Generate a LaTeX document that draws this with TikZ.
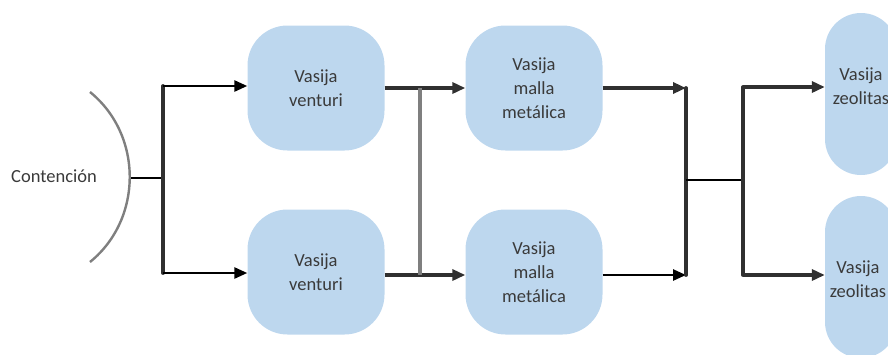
\documentclass[tikz,border=0pt]{standalone}
\usepackage{fontspec}
\setmainfont{Carlito}
\usetikzlibrary{arrows.meta}
\definecolor{boxblue}{HTML}{BDD7EE}
\definecolor{txt}{HTML}{3A3A3A}
\definecolor{trunk}{HTML}{303030}
\definecolor{midgray}{HTML}{7F7F7F}
\begin{document}
\begin{tikzpicture}[x=1pt,y=-1pt,
  vessel/.style={fill=boxblue, draw=none, rounded corners=40pt, minimum width=137pt,
    minimum height=125pt, align=center, text=txt, inner sep=0pt,
    font=\fontsize{18.5}{24}\selectfont},
  zeo/.style={vessel, minimum width=72pt, minimum height=162pt, rounded corners=36pt},
  lbl/.style={text=txt, font=\fontsize{18.5}{24}\selectfont, inner sep=0pt},
  arr/.style={-{Triangle[length=13pt,width=11pt]}, line width=2.6pt, color=black},
  thickarr/.style={arr, line width=3.6pt, color=trunk},
  trunkline/.style={line width=3.8pt, color=trunk},
  thinline/.style={line width=2.3pt, color=black}]
\useasboundingbox (0,0) rectangle (888,354);
\clip (0,0) rectangle (888,354);

% Contención
\node[lbl] (cont) at (54,176) {Contención};
\draw[line width=2.4pt, color=midgray] (90,92) .. controls (143,135) and (143,219) .. (90,262);
\coordinate (arcR) at (131,178);
\coordinate (j1) at (163,178);
\coordinate (j1t) at (163,86);
\coordinate (j1b) at (163,273);

% vessels
\node[vessel] (v1) at (316,88) {Vasija\\venturi};
\node[vessel] (v2) at (316,272) {Vasija\\venturi};
\node[vessel] (m1) at (534,88) {Vasija\\malla\\metálica};
\node[vessel] (m2) at (534,272) {Vasija\\malla\\metálica};
\node[zeo] (z1) at (861,94) {};
\node[zeo] (z2) at (861,277) {};
\node[lbl, align=center] (z1t) at (861,86) {Vasija\\zeolitas};
\node[lbl, align=center] (z2t) at (858,279) {Vasija\\zeolitas};

% left split
\draw[thinline] (arcR) -- (j1);
\draw[trunkline, line cap=round] (j1t) -- (j1b);
\draw[arr] (j1t) -- (v1.west |- j1t);
\draw[arr] (j1b) -- (v2.west |- j1b);

% venturi -> malla
\draw[thickarr] (v1.east) -- (m1.west);
\draw[thickarr] (v2.east |- 0,275) -- (m2.west |- 0,275);
\coordinate (g1) at (420,88);
\coordinate (g2) at (420,275);
\draw[line width=3.4pt, color=midgray] (g1) -- (g2);

% malla -> join
\coordinate (k1) at (686,88);
\coordinate (k2) at (686,275);
\coordinate (kc) at (686,180);
\draw[thickarr] (m1.east) -- (k1);
\draw[arr] (m2.east |- k2) -- (k2);
\draw[trunkline, line cap=round] (k1) -- (k2);
\coordinate (s1) at (743,87);
\coordinate (s2) at (743,275);
\coordinate (sc) at (743,180);
\draw[thinline] (kc) -- (sc);
\draw[trunkline, line cap=round] (s1) -- (s2);
\draw[thickarr] (s1) -- (z1.west |- s1);
\draw[thickarr] (s2) -- (z2.west |- s2);
\end{tikzpicture}
\end{document}
